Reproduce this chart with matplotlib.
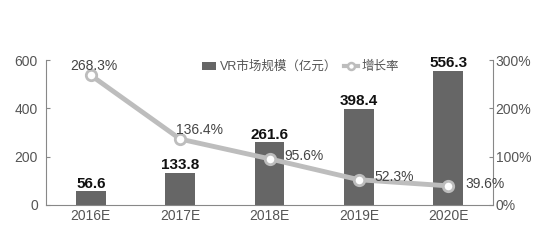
import matplotlib
matplotlib.use("Agg")
import matplotlib.pyplot as plt
from matplotlib.lines import Line2D
from matplotlib.patches import Patch

plt.rcParams['font.family'] = ['Liberation Sans', 'Noto Sans CJK SC', 'DejaVu Sans']

years = ["2016E", "2017E", "2018E", "2019E", "2020E"]
market_size = [56.6, 133.8, 261.6, 398.4, 556.3]
growth_rate = [268.3, 136.4, 95.6, 52.3, 39.6]
growth_labels = ["268.3%", "136.4%", "95.6%", "52.3%", "39.6%"]

bar_color = "#666666"
line_color = "#bdbdbd"
text_color = "#555555"
axis_color = "#888888"

fig = plt.figure(figsize=(5.5, 2.5), dpi=100)
ax = fig.add_axes([0.084, 0.18, 0.812, 0.58])
ax2 = ax.twinx()

x = list(range(len(years)))
ax.bar(x, market_size, width=0.33, color=bar_color, zorder=2)
for xi, v in zip(x, market_size):
    ax.text(xi, v + 1, f"{v:.1f}", ha="center", va="bottom",
            fontsize=11, fontweight="bold", color="#111111")

ax.set_xlim(-0.5, 4.5)
ax.set_ylim(0, 600)
ax.set_yticks([0, 200, 400, 600])
ax.set_xticks(x)
ax.set_xticklabels(years)

ax2.plot(x, growth_rate, color=line_color, lw=3.5, marker="o", markersize=7.5,
         markerfacecolor="white", markeredgecolor=line_color, markeredgewidth=2,
         zorder=3)
ax2.set_ylim(0, 300)
ax2.set_yticks([0, 100, 200, 300])
ax2.set_yticklabels(["0%", "100%", "200%", "300%"])

# (x shift in category units, y shift in percent, horizontal / vertical alignment)
offsets = [(0.03, 5, "center", "bottom"), (-0.05, 4, "left", "bottom"),
           (0.17, 5, "left", "center"), (0.18, 6, "left", "center"),
           (0.19, 3, "left", "center")]
for xi, v, lab, (dx, dy, ha, va) in zip(x, growth_rate, growth_labels, offsets):
    ax2.text(xi + dx, v + dy, lab, ha=ha, va=va,
             fontsize=10, color="#444444", zorder=4)

for a in (ax, ax2):
    a.spines["top"].set_visible(False)
    a.tick_params(colors=text_color, labelsize=10, length=3, width=0.8,
                  color=axis_color)
ax.spines["right"].set_visible(False)
ax.spines["left"].set_color(axis_color)
ax.spines["bottom"].set_color(axis_color)
ax2.spines["left"].set_visible(False)
ax2.spines["bottom"].set_visible(False)
ax2.spines["right"].set_color(axis_color)
ax.tick_params(axis="x", length=0, pad=3)
ax.tick_params(axis="y", direction="in", pad=6)
ax2.tick_params(axis="y", direction="in", pad=2)

handles = [Patch(facecolor=bar_color, edgecolor="none"),
           Line2D([0], [0], color=line_color, lw=3, marker="o", markersize=5,
                  markerfacecolor="white", markeredgecolor=line_color,
                  markeredgewidth=1.8)]
ax2.legend(handles, ["VR市场规模（亿元）", "增长率"], loc="center left",
           bbox_to_anchor=(0.349, 0.952), ncol=2, frameon=False, fontsize=9,
           labelcolor=text_color, handlelength=1.1, handleheight=0.6,
           columnspacing=0.6, handletextpad=0.3, borderpad=0, borderaxespad=0)

fig.savefig("out.png", dpi=100, facecolor="white")
